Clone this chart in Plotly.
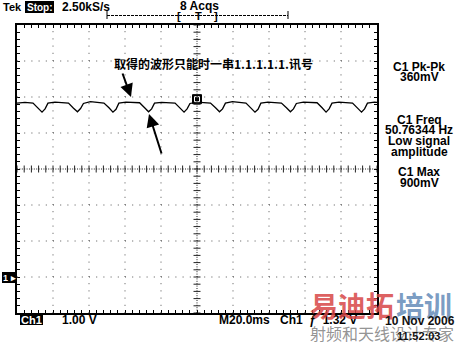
import plotly.graph_objects as go

# ---- data (screen units: x in ms over 10 divisions of 20 ms, y in divisions, 1 V/div) ----
time_ms = [0.0, 4.4,
           8.9, 11.7, 13.9, 15.6, 17.2, 21.1, 25.0,
           28.6, 31.4, 33.6, 35.3, 36.9, 40.8, 44.7,
           48.3, 51.1, 53.3, 55.0, 56.6, 60.5, 64.4,
           68.1, 70.9, 73.1, 74.8, 76.4, 80.3, 84.2,
           87.8, 90.6, 92.8, 94.5, 96.1, 100.0, 103.9,
           107.5, 110.3, 112.5, 114.2, 115.8, 119.7, 123.6,
           127.2, 130.0, 132.2, 133.9, 135.5, 139.4, 143.3,
           146.9, 149.7, 151.9, 153.6, 155.2, 159.1, 163.0,
           166.7, 169.5, 171.7, 173.4, 175.0, 178.9, 182.8,
           186.4, 189.2, 191.4, 193.1, 194.7, 198.6, 200.0]
volts = [1.83, 1.85,
         1.83, 1.70, 1.58, 1.67, 1.83, 1.86, 1.84,
         1.83, 1.69, 1.59, 1.68, 1.82, 1.87, 1.84,
         1.83, 1.70, 1.58, 1.66, 1.83, 1.86, 1.84,
         1.84, 1.70, 1.59, 1.67, 1.83, 1.85, 1.84,
         1.83, 1.69, 1.58, 1.67, 1.82, 1.86, 1.84,
         1.83, 1.70, 1.59, 1.67, 1.83, 1.87, 1.84,
         1.83, 1.69, 1.58, 1.66, 1.83, 1.86, 1.84,
         1.83, 1.70, 1.59, 1.67, 1.82, 1.86, 1.84,
         1.84, 1.70, 1.58, 1.67, 1.83, 1.86, 1.84,
         1.83, 1.69, 1.58, 1.67, 1.83, 1.86, 1.85]
trigger_pos = [100.0]
trigger_level = [1.94]

major_x = [0, 20, 40, 60, 80, 100, 120, 140, 160, 180, 200]
major_y = [-4, -3, -2, -1, 0, 1, 2, 3, 4]
minor_x = [i * 4 for i in range(51)]
minor_y = [round(-4 + i * 0.2, 2) for i in range(41)]

title_text = "取得的波形只能时一串1.1.1.1.1.讯号"
meas_lines = ["C1 Pk-Pk", "360mV", "C1 Freq", "50.76344 Hz", "Low signal",
              "amplitude", "C1 Max", "900mV"]
meas_y = [67, 77, 120, 130, 141, 152, 172, 183]

W, H = 461, 346
L, R, T, B = 17, 377, 25, 313


def px(x):
    return (x - L) / (R - L)


def py(y):
    return (B - y) / (B - T)


FONT = "Liberation Sans"
fig = go.Figure()

shapes = []
for gx in major_x[1:-1]:
    if gx == 100:
        continue
    shapes.append(dict(type="line", xref="x", yref="y", x0=gx, x1=gx, y0=-4, y1=4,
                       line=dict(color="#555", width=1, dash="1px,6.2px")))
for gy in major_y[1:-1]:
    if gy == 0:
        continue
    shapes.append(dict(type="line", xref="x", yref="y", x0=0, x1=200, y0=gy, y1=gy,
                       line=dict(color="#555", width=1, dash="1px,6.2px")))
shapes.append(dict(type="line", xref="x", yref="y", x0=100, x1=100, y0=-4, y1=4,
                   line=dict(color="#222", width=1, dash="1px,1.4px")))
shapes.append(dict(type="line", xref="x", yref="y", x0=0, x1=200, y0=0, y1=0,
                   line=dict(color="#222", width=1, dash="1px,1.4px")))
shapes.append(dict(type="line", xref="paper", yref="paper", x0=px(107), x1=px(288),
                   y0=py(15.5), y1=py(15.5), line=dict(color="black", width=1, dash="3px,1px")))
for xx in (107, 288):
    shapes.append(dict(type="line", xref="paper", yref="paper", x0=px(xx), x1=px(xx),
                       y0=py(11), y1=py(19), line=dict(color="black", width=1)))
for (x0, x1, y0, y1) in [(25, 54, 1, 13), (20, 43, 314, 325), (2, 16, 272, 283)]:
    shapes.append(dict(type="rect", xref="paper", yref="paper", x0=px(x0), x1=px(x1),
                       y0=py(y1), y1=py(y0), fillcolor="black", line=dict(width=0)))

fig.add_trace(go.Scatter(x=minor_x, y=[0] * len(minor_x), mode="markers",
                         marker=dict(symbol="line-ns", size=5, line=dict(color="#222", width=1)),
                         hoverinfo="skip", showlegend=False))
fig.add_trace(go.Scatter(x=[100] * len(minor_y), y=minor_y, mode="markers",
                         marker=dict(symbol="line-ew", size=5, line=dict(color="#222", width=1)),
                         hoverinfo="skip", showlegend=False))
fig.add_trace(go.Scatter(x=time_ms, y=volts, mode="lines",
                         line=dict(color="black", width=1.3), showlegend=False))
fig.add_trace(go.Scatter(x=trigger_pos, y=trigger_level, mode="markers",
                         marker=dict(symbol="square", size=9, color="black",
                                     line=dict(color="black", width=1)),
                         showlegend=False))
fig.add_trace(go.Scatter(x=trigger_pos, y=trigger_level, mode="markers",
                         marker=dict(symbol="square-open", size=5, color="white",
                                     line=dict(color="white", width=1)),
                         showlegend=False))

ann = []


def txt(x, y, s, size=12, color="black", anchor="left", family=FONT, bold=True):
    ann.append(dict(xref="paper", yref="paper", x=px(x), y=py(y), text=(f"<b>{s}</b>" if bold else s),
                    showarrow=False, xanchor=anchor, yanchor="middle",
                    font=dict(family=family, size=size, color=color)))


txt(1, 7, "Tek", 11)
txt(39.5, 7, "Stop:", 10, "white", "center")
txt(60, 7, "2.50kS/s", 12)
txt(178, 6, "8 Acqs", 12)
txt(179, 16, "[", 11, anchor="center")
txt(198, 16, "T", 11, anchor="center")
txt(216, 16, "]", 11, anchor="center")
for s, yy in zip(meas_lines, meas_y):
    txt(419, yy, s, 12, anchor="center")
txt(9, 278, "1 ▸", 9, "white", "center")
txt(31.5, 320, "Ch1", 11, "white", "center")
txt(60, 320, "1.00 V", 12)
txt(217, 320, "M20.0ms", 12)
txt(278, 320, "Ch1  ƒ  1.32 V", 12)
# watermark
txt(308, 305, "易迪拓", 28, "rgba(215,70,70,0.85)", family="Noto Sans CJK SC")
txt(394, 305, "培训", 28, "rgba(100,140,185,0.85)", family="Noto Sans CJK SC")
txt(383, 321, "10 Nov 2006", 12, "#111")
txt(308, 333, "射频和天线设计专家", 16, "rgba(120,120,120,0.8)", family="Noto Sans CJK SC", bold=False)
txt(418, 336, "11:52:03", 11, "#111", "center")
txt(112, 64, title_text, 12, family="Noto Sans CJK SC")

ann.append(dict(xref="paper", yref="paper", x=px(131), y=py(97), ax=122 - 131, ay=72 - 97,
                axref="pixel", ayref="pixel", showarrow=True, arrowhead=2, arrowsize=1.3,
                arrowwidth=2, arrowcolor="black", text=""))
ann.append(dict(xref="paper", yref="paper", x=px(149), y=py(114), ax=162 - 149, ay=155 - 114,
                axref="pixel", ayref="pixel", showarrow=True, arrowhead=2, arrowsize=1.3,
                arrowwidth=2, arrowcolor="black", text=""))

fig.update_layout(
    width=W, height=H, margin=dict(l=L, r=W - R, t=T, b=H - B),
    paper_bgcolor="white", plot_bgcolor="white",
    shapes=shapes, annotations=ann, showlegend=False,
    xaxis=dict(range=[0, 200], showgrid=False, zeroline=False, showline=True,
               linecolor="black", linewidth=1.5, mirror="allticks", ticks="inside",
               tickvals=minor_x, ticklen=3, tickcolor="black", showticklabels=False),
    yaxis=dict(range=[-4, 4], showgrid=False, zeroline=False, showline=True,
               linecolor="black", linewidth=1.5, mirror="allticks", ticks="inside",
               tickvals=minor_y, ticklen=3, tickcolor="black", showticklabels=False),
)
fig.write_html("out.html")
